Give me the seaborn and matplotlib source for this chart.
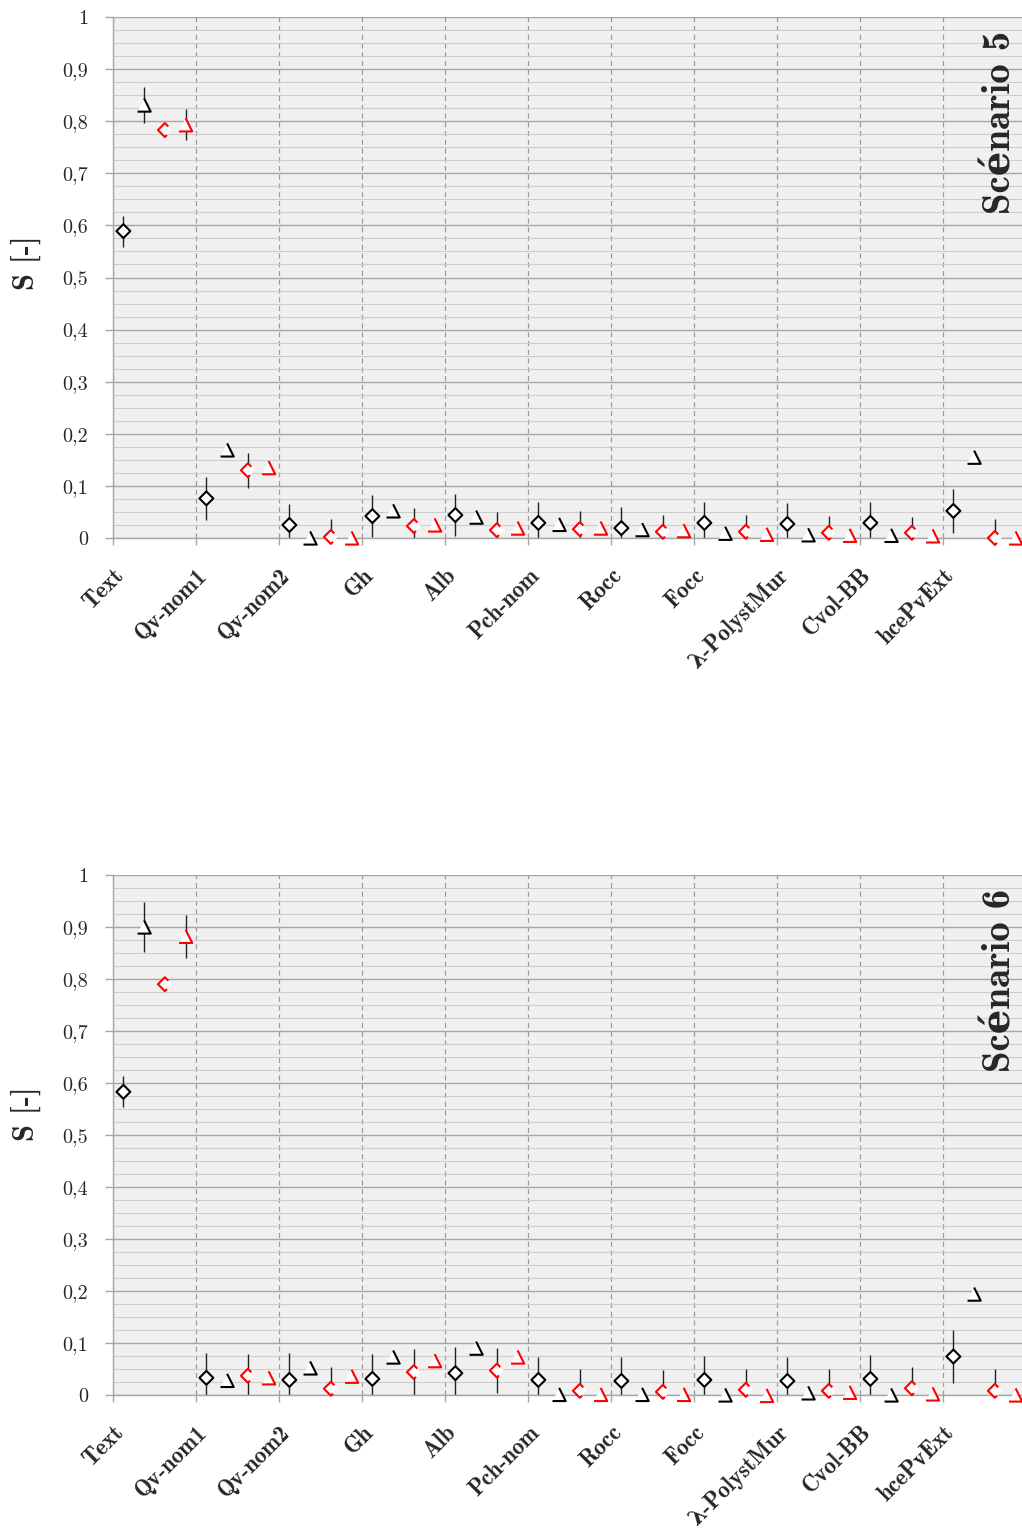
import numpy as np
import pandas as pd
import matplotlib
matplotlib.use("Agg")
import matplotlib.pyplot as plt
import matplotlib.transforms as mtransforms
from matplotlib.path import Path
from matplotlib.ticker import MultipleLocator, FixedLocator
import seaborn as sns

nan = np.nan

categories = ["Text", "Qv-nom1", "Qv-nom2", "Gh", "Alb", "Pch-nom", "Rocc",
              "Focc", "λ-PolystMur", "Cvol-BB", "hcePvExt"]
ytick_labels = ["0", "0,1", "0,2", "0,3", "0,4", "0,5", "0,6", "0,7", "0,8", "0,9", "1"]

# ---- Scénario 5 ----
s5_black_diamond = [0.589, 0.076, 0.025, 0.042, 0.044, 0.029, 0.019, 0.029, 0.027, 0.029, 0.052]
s5_black_diamond_err = [0.030, 0.041, 0.040, 0.041, 0.040, 0.040, 0.041, 0.040, 0.040, 0.040, 0.043]
s5_black_tri = [0.831, 0.169, 0.000, 0.052, 0.040, 0.026, 0.016, 0.009, 0.006, 0.005, 0.155]
s5_black_tri_err = [0.035, nan, nan, nan, nan, nan, nan, nan, nan, nan, nan]
s5_red_diamond = [0.783, 0.130, 0.002, 0.023, 0.015, 0.017, 0.012, 0.012, 0.010, 0.010, 0.000]
s5_red_diamond_err = [nan, 0.034, 0.035, 0.035, 0.035, 0.035, 0.033, 0.033, 0.033, 0.031, 0.036]
s5_red_tri = [0.793, 0.135, 0.000, 0.025, 0.019, 0.019, 0.014, 0.007, 0.005, 0.004, 0.000]
s5_red_tri_err = [0.030, nan, nan, nan, nan, nan, nan, nan, nan, nan, nan]

# ---- Scénario 6 ----
s6_black_diamond = [0.583, 0.033, 0.029, 0.031, 0.042, 0.029, 0.027, 0.029, 0.027, 0.031, 0.074]
s6_black_diamond_err = [0.030, 0.048, 0.052, 0.048, 0.050, 0.044, 0.046, 0.046, 0.046, 0.046, 0.051]
s6_black_tri = [0.900, 0.028, 0.052, 0.073, 0.090, 0.001, 0.001, 0.000, 0.004, 0.000, 0.194]
s6_black_tri_err = [0.048, nan, nan, nan, nan, nan, nan, nan, nan, nan, nan]
s6_red_diamond = [0.790, 0.037, 0.012, 0.044, 0.047, 0.008, 0.006, 0.010, 0.008, 0.013, 0.008]
s6_red_diamond_err = [nan, 0.042, 0.042, 0.044, 0.043, 0.042, 0.042, 0.040, 0.042, 0.041, 0.042]
s6_red_tri = [0.882, 0.033, 0.036, 0.066, 0.073, 0.001, 0.001, -0.001, 0.005, 0.002, 0.000]
s6_red_tri_err = [0.041, nan, nan, nan, nan, nan, nan, nan, nan, nan, nan]

series_names = ["black_diamond", "black_tri", "red_diamond", "red_tri"]

# ---- marker shapes ----
diamond_full = Path([(0, 1), (1, 0), (0, -1), (-1, 0), (0, 1)],
                    [Path.MOVETO, Path.LINETO, Path.LINETO, Path.LINETO, Path.CLOSEPOLY])
tri_full = Path([(0, 1), (1, -1), (-1, -1), (0, 1)],
                [Path.MOVETO, Path.LINETO, Path.LINETO, Path.CLOSEPOLY])
tri_edge = Path([(0, 1), (1, -1), (-1, -1), (-1, 1)],
                [Path.MOVETO, Path.LINETO, Path.LINETO, Path.MOVETO])
diamond_edge = Path([(0.5, 0.5), (0, 1), (-1, 0), (0, -1), (0.3, -0.7), (1, 0)],
                    [Path.MOVETO, Path.LINETO, Path.LINETO, Path.LINETO, Path.LINETO, Path.MOVETO])

style = {
    "black_diamond": dict(offset=0.125, color="black", fill=diamond_full, edge=diamond_full, s=100),
    "black_tri": dict(offset=0.375, color="black", fill=tri_full, edge=tri_edge, s=90),
    "red_diamond": dict(offset=0.625, color="red", fill=diamond_full, edge=diamond_edge, s=100),
    "red_tri": dict(offset=0.875, color="red", fill=tri_full, edge=tri_edge, s=90),
}

def make_df(vals, errs):
    rows = []
    for name, v, e in zip(series_names, vals, errs):
        for i, (cat, vv, ee) in enumerate(zip(categories, v, e)):
            rows.append(dict(category=cat, idx=i, series=name, value=vv, err=ee))
    return pd.DataFrame(rows)

df5 = make_df([s5_black_diamond, s5_black_tri, s5_red_diamond, s5_red_tri],
              [s5_black_diamond_err, s5_black_tri_err, s5_red_diamond_err, s5_red_tri_err])
df6 = make_df([s6_black_diamond, s6_black_tri, s6_red_diamond, s6_red_tri],
              [s6_black_diamond_err, s6_black_tri_err, s6_red_diamond_err, s6_red_tri_err])

sns.set_style("white")
W, H = 1022, 1530
fig = plt.figure(figsize=(W / 100, H / 100), dpi=100)
ax1 = fig.add_axes([113 / W, 1 - 538 / H, 913 / W, 521 / H])
ax2 = fig.add_axes([113 / W, 1 - 1395 / H, 913 / W, 520 / H])

GRID_MAJ = "#a6a6a6"
GRID_MIN = "#cdcdcd"
BOLD = ["cmb10", "DejaVu Serif"]

def draw(ax, df, scen_text, ylab_y, scen_top):
    ax.set_facecolor("#f0f0f0")
    ax.set_axisbelow(True)
    for name in series_names:
        st = style[name]
        sub = df[df["series"] == name].copy()
        sub["xpos"] = sub["idx"] + st["offset"]
        eb = sub.dropna(subset=["err"])
        ax.vlines(eb["xpos"], eb["value"] - eb["err"], eb["value"] + eb["err"],
                  color="#222222", lw=1.0, zorder=2.5)
        sns.scatterplot(data=sub, x="xpos", y="value", marker=st["fill"], s=st["s"],
                        color="white", facecolor="white", edgecolor="none", linewidth=0,
                        ax=ax, zorder=3, clip_on=False, legend=False)
        sns.scatterplot(data=sub, x="xpos", y="value", marker=st["edge"], s=st["s"],
                        color=st["color"], facecolor="none", edgecolor=st["color"],
                        linewidth=1.5, ax=ax, zorder=4, clip_on=False, legend=False)
    ax.set_xlim(0, 11)
    ax.set_ylim(0, 1)
    ax.set_xlabel("")
    ax.set_ylabel("S [-]", family=BOLD, weight="bold", fontsize=22)
    ax.yaxis.set_label_coords(26 / W, ylab_y, transform=fig.transFigure)
    ax.yaxis.label.set_verticalalignment("center")

    ax.yaxis.set_major_locator(FixedLocator(np.arange(0, 1.01, 0.1)))
    ax.set_yticklabels(ytick_labels, family="cmr10", fontsize=14.5)
    ax.yaxis.set_minor_locator(MultipleLocator(0.025))
    ax.xaxis.set_major_locator(FixedLocator(np.arange(0, 11)))
    ax.set_xticklabels(categories, family=BOLD, weight="bold", fontsize=16.5,
                       rotation=45, ha="right", va="top", rotation_mode="anchor")
    off = mtransforms.ScaledTranslation(0.19, 0.0, fig.dpi_scale_trans)
    for lab in ax.get_xticklabels():
        lab.set_transform(lab.get_transform() + off)

    ax.grid(which="major", axis="y", color=GRID_MAJ, lw=1.0)
    ax.grid(which="minor", axis="y", color=GRID_MIN, lw=0.8)
    ax.grid(which="major", axis="x", color="#9a9a9a", lw=0.9, linestyle=(0, (4, 3)))
    ax.tick_params(axis="y", which="major", length=6, width=1, color=GRID_MAJ,
                   direction="out", pad=12, left=True)
    ax.tick_params(axis="y", which="minor", length=0)
    ax.tick_params(axis="x", which="major", length=5, width=1, color=GRID_MAJ,
                   direction="out", pad=14, bottom=True)
    for sp in ["top", "right"]:
        ax.spines[sp].set_visible(False)
    for sp in ["left", "bottom"]:
        ax.spines[sp].set_color(GRID_MAJ)
        ax.spines[sp].set_linewidth(1.0)

    fig.text(1001 / W, scen_top, scen_text, rotation=90, ha="center", va="top",
             family=BOLD, weight="bold", fontsize=28)

draw(ax1, df5, "Scénario 5", 1 - 263 / H, 1 - 31 / H)
draw(ax2, df6, "Scénario 6", 1 - 1114 / H, 1 - 889 / H)

fig.savefig("out.png", dpi=100)
